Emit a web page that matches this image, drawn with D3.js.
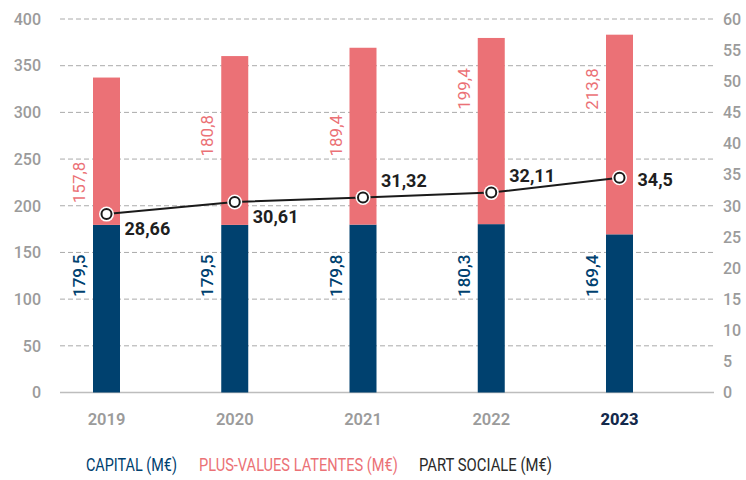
<!DOCTYPE html>
<html>
<head>
<meta charset="utf-8">
<script src="https://cdn.jsdelivr.net/npm/d3@7"></script>
<style>
  body { margin: 0; background: #fff; }
  svg { display: block; font-family: Roboto, "Noto Sans", sans-serif; }
</style>
</head>
<body>
<script>
// Years and series
const years = ["2019", "2020", "2021", "2022", "2023"];
const capital = [179.5, 179.5, 179.8, 180.3, 169.4];
const plusValues = [157.8, 180.8, 189.4, 199.4, 213.8];
const partSociale = [28.66, 30.61, 31.32, 32.11, 34.5];

// Where the rotated bar labels sit (in left axis units) and where the line labels go
const capitalLabelAt = [125, 125, 125, 125, 125];
const plusLabelAt = [225, 275, 275, 325, 325];
const lineLabelSide = ["below", "below", "above", "above", "right"];

// Ticks
const leftTicks = [0, 50, 100, 150, 200, 250, 300, 350, 400];
const rightTicks = [0, 5, 10, 15, 20, 25, 30, 35, 40, 45, 50, 55, 60];

const legendItems = [
    { label: "CAPITAL (M€)", color: "#00416F", x: 86, w: 91 },
    { label: "PLUS-VALUES LATENTES (M€)", color: "#EB7176", x: 199, w: 199 },
    { label: "PART SOCIALE (M€)", color: "#2a2a2a", x: 419, w: 133 }
];

const width = 746, height = 480;
const blue = "#00416F", pink = "#EB7176";

const svg = d3.select("body").append("svg")
    .attr("width", width)
    .attr("height", height);

// Scales
const x = d3.scalePoint().domain(years).range([106.5, 619.5]);
const yLeft = d3.scaleLinear().domain([0, 400]).range([392.5, 19]);
const yRight = d3.scaleLinear().domain([0, 60]).range([392.5, 19]);
const barWidth = 27;

// Gridlines
svg.append("g")
    .selectAll("line")
    .data(leftTicks)
    .enter()
    .append("line")
    .attr("x1", 60)
    .attr("x2", 714)
    .attr("y1", d => yLeft(d))
    .attr("y2", d => yLeft(d))
    .attr("stroke", d => d === 0 ? "#bdbdbd" : "#aaaaaa")
    .attr("stroke-width", d => d === 0 ? 1.5 : 1)
    .attr("stroke-dasharray", d => d === 0 ? null : "5,3");

// Left axis labels
svg.append("g")
    .selectAll("text")
    .data(leftTicks)
    .enter()
    .append("text")
    .attr("x", 41)
    .attr("y", d => yLeft(d))
    .attr("dy", "0.36em")
    .attr("text-anchor", "end")
    .attr("fill", "#9b9b9b")
    .attr("font-size", "16px")
    .attr("font-weight", 500)
    .text(d => d);

// Right axis labels
svg.append("g")
    .selectAll("text")
    .data(rightTicks)
    .enter()
    .append("text")
    .attr("x", 723)
    .attr("y", d => yRight(d))
    .attr("dy", "0.36em")
    .attr("text-anchor", "start")
    .attr("fill", "#9b9b9b")
    .attr("font-size", "16px")
    .attr("font-weight", 500)
    .text(d => d);

// Stacked bars
const bars = svg.append("g");
years.forEach((year, i) => {
    const x0 = x(year) - barWidth / 2;
    bars.append("rect")
        .attr("x", x0)
        .attr("width", barWidth)
        .attr("y", yLeft(capital[i]))
        .attr("height", yLeft(0) - yLeft(capital[i]))
        .attr("fill", blue);
    bars.append("rect")
        .attr("x", x0)
        .attr("width", barWidth)
        .attr("y", yLeft(capital[i] + plusValues[i]))
        .attr("height", yLeft(capital[i]) - yLeft(capital[i] + plusValues[i]))
        .attr("fill", pink);

    // Rotated value labels, left of the bar
    const lx = x0 - 14;
    [[capital[i], capitalLabelAt[i], blue, 500], [plusValues[i], plusLabelAt[i], pink, 400]].forEach(([v, at, c, fw]) => {
        const ly = yLeft(at);
        bars.append("text")
            .attr("transform", `translate(${lx},${ly}) rotate(-90)`)
            .attr("dy", "0.36em")
            .attr("text-anchor", "middle")
            .attr("fill", c)
            .attr("font-size", "17px")
            .attr("font-weight", fw)
            .text(String(v).replace(".", ","));
    });
});

// Year labels
svg.append("g")
    .selectAll("text")
    .data(years)
    .enter()
    .append("text")
    .attr("x", d => x(d))
    .attr("y", 425)
    .attr("text-anchor", "middle")
    .attr("font-size", "16.5px")
    .attr("font-weight", (d, i) => i === years.length - 1 ? 800 : 600)
    .attr("fill", (d, i) => i === years.length - 1 ? "#13294B" : "#9b9b9b")
    .text(d => d);

// Part sociale line
const line = d3.line()
    .x((d, i) => x(years[i]))
    .y(d => yRight(d));

svg.append("path")
    .datum(partSociale)
    .attr("d", line)
    .attr("fill", "none")
    .attr("stroke", "#1a1a1a")
    .attr("stroke-width", 2);

const pts = svg.append("g");
partSociale.forEach((v, i) => {
    const cx = x(years[i]), cy = yRight(v);
    pts.append("circle").attr("cx", cx).attr("cy", cy).attr("r", 7.5).attr("fill", "#fff");
    pts.append("circle").attr("cx", cx).attr("cy", cy).attr("r", 5)
        .attr("fill", "#fff").attr("stroke", "#1a1a1a").attr("stroke-width", 2);

    // Label placement around the point
    const offsets = { below: [18, 21], above: [18, -11], right: [18, 8] };
    const [dx, dy] = offsets[lineLabelSide[i]];
    pts.append("text")
        .attr("x", cx + dx)
        .attr("y", cy + dy)
        .attr("fill", "#1f1f1f")
        .attr("font-size", "18px")
        .attr("font-weight", 700)
        .text(String(v).replace(".", ","));
});

// Legend (condensed by squeezing each label horizontally to its width)
legendItems.forEach(d => {
    const g = svg.append("g");
    const t = g.append("text")
        .attr("x", 0)
        .attr("y", 0)
        .attr("fill", d.color)
        .attr("font-size", "18px")
        .attr("font-weight", 400)
        .text(d.label);
    const natural = t.node().getComputedTextLength();
    g.attr("transform", `translate(${d.x},471) scale(${d.w / natural},1)`);
});
</script>
</body>
</html>
